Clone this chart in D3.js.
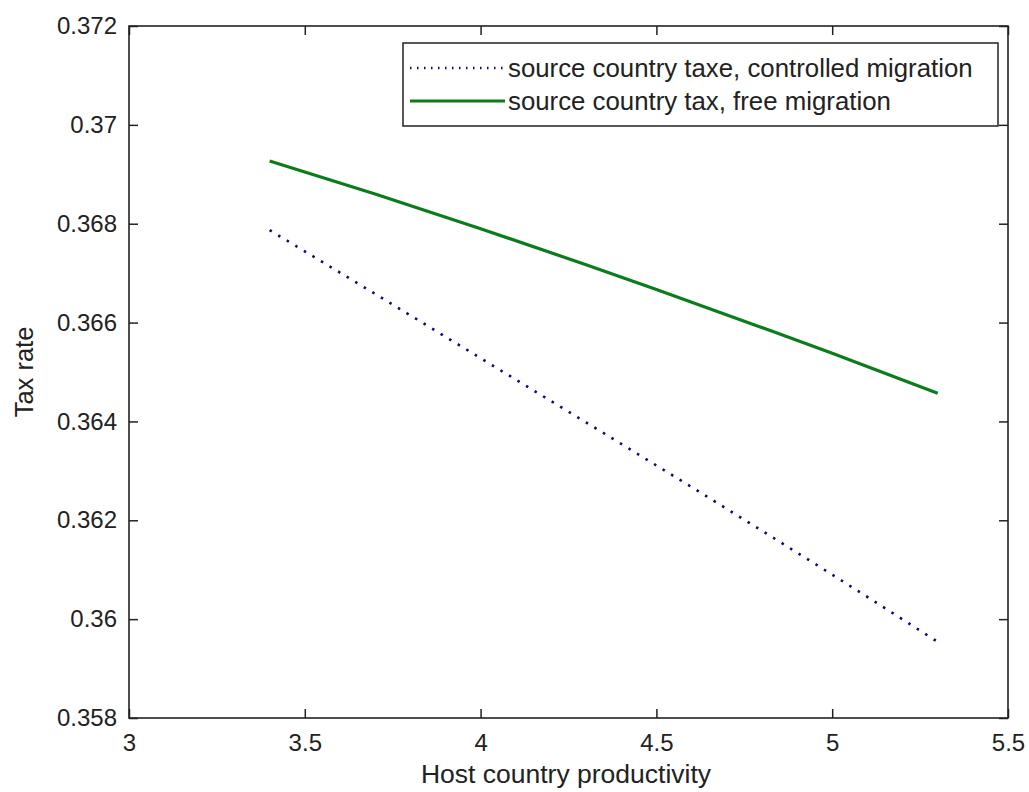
<!DOCTYPE html>
<html>
<head>
<meta charset="utf-8">
<script src="https://cdn.jsdelivr.net/npm/d3@7/dist/d3.min.js"></script>
<style>
html,body{margin:0;padding:0;background:#fff;}
text{font-family:"Liberation Sans",Arial,sans-serif;fill:#222;}
</style>
</head>
<body>
<svg id="chart" width="1029" height="792"></svg>
<script>
// ---- data ----
const xTicks = [3, 3.5, 4, 4.5, 5, 5.5];
const xTickLabels = ["3", "3.5", "4", "4.5", "5", "5.5"];
const yTicks = [0.358, 0.36, 0.362, 0.364, 0.366, 0.368, 0.37, 0.372];
const yTickLabels = ["0.358", "0.36", "0.362", "0.364", "0.366", "0.368", "0.37", "0.372"];
const productivity = [3.4, 3.7, 4.0, 4.3, 4.5, 4.8, 5.0, 5.3];
const taxControlled = [0.36787, 0.36658, 0.36528, 0.36398, 0.36311, 0.36179, 0.36090, 0.35954];
const taxFree = [0.36927, 0.36860, 0.36790, 0.36717, 0.36667, 0.36590, 0.36538, 0.36457];
const seriesNames = ["source country taxe, controlled migration", "source country tax, free migration"];

const svg = d3.select("#chart");
const L = 129, R = 1008, T = 26, B = 718;
const x = d3.scaleLinear().domain([3, 5.5]).range([L, R]);
const y = d3.scaleLinear().domain([0.358, 0.372]).range([B, T]);
const axisColor = "#222";
const tickLen = 9;

svg.append("rect").attr("x", 0).attr("y", 0).attr("width", 1029).attr("height", 792).attr("fill", "#fff");

// series lines
const line = d3.line().x(d => x(d[0])).y(d => y(d[1])).curve(d3.curveMonotoneX);
svg.append("path")
  .datum(productivity.map((p, i) => [p, taxControlled[i]]))
  .attr("d", line).attr("fill", "none")
  .attr("stroke", "#0a0a80").attr("stroke-width", 2.6)
  .attr("stroke-dasharray", "2.5,7.5");
svg.append("path")
  .datum(productivity.map((p, i) => [p, taxFree[i]]))
  .attr("d", line).attr("fill", "none")
  .attr("stroke", "#0a7d1a").attr("stroke-width", 3.2);

// axes (MATLAB-style box with inward ticks)
const gB = svg.append("g").attr("transform", `translate(0,${B})`)
  .call(d3.axisBottom(x).tickValues(xTicks).tickFormat((d, i) => xTickLabels[i]).tickSizeInner(-tickLen).tickSizeOuter(0).tickPadding(16));
const gT = svg.append("g").attr("transform", `translate(0,${T})`)
  .call(d3.axisTop(x).tickValues(xTicks).tickFormat("").tickSizeInner(-tickLen).tickSizeOuter(0));
const gL = svg.append("g").attr("transform", `translate(${L},0)`)
  .call(d3.axisLeft(y).tickValues(yTicks).tickFormat((d, i) => yTickLabels[i]).tickSizeInner(-tickLen).tickSizeOuter(0).tickPadding(12));
const gR = svg.append("g").attr("transform", `translate(${R},0)`)
  .call(d3.axisRight(y).tickValues(yTicks).tickFormat("").tickSizeInner(-tickLen).tickSizeOuter(0));
[gB, gT, gL, gR].forEach(g => {
  g.select(".domain").remove();
  g.selectAll(".tick line").attr("stroke", axisColor).attr("stroke-width", 1.5);
  g.selectAll(".tick text").attr("font-size", 24).attr("fill", "#222")
    .style("font-family", '"Liberation Sans",Arial,sans-serif');
});
svg.append("rect").attr("x", L).attr("y", T).attr("width", R - L).attr("height", B - T)
  .attr("fill", "none").attr("stroke", axisColor).attr("stroke-width", 1.6);

// axis titles
svg.append("text").attr("x", 566).attr("y", 783).attr("text-anchor", "middle")
  .attr("font-size", 26.5).text("Host country productivity");
svg.append("text").attr("transform", `translate(33,${(T + B) / 2}) rotate(-90)`)
  .attr("text-anchor", "middle").attr("font-size", 25.5).text("Tax rate");

// legend
const lg = svg.append("g");
lg.append("rect").attr("x", 403).attr("y", 43).attr("width", 595).attr("height", 83)
  .attr("fill", "#fff").attr("stroke", axisColor).attr("stroke-width", 1.5);
const rows = [68, 101];
lg.append("line").attr("x1", 410).attr("x2", 505).attr("y1", rows[0]).attr("y2", rows[0])
  .attr("stroke", "#0a0a80").attr("stroke-width", 2.4).attr("stroke-dasharray", "1.5,5.5");
lg.append("line").attr("x1", 410).attr("x2", 505).attr("y1", rows[1]).attr("y2", rows[1])
  .attr("stroke", "#0a7d1a").attr("stroke-width", 3.2);
seriesNames.forEach((n, i) => {
  lg.append("text").attr("x", 508).attr("y", rows[i]).attr("dy", "0.35em")
    .attr("font-size", 25.8).text(n);
});
</script>
</body>
</html>
